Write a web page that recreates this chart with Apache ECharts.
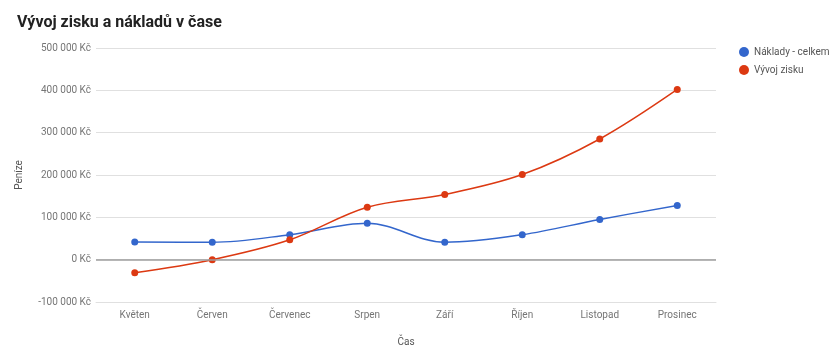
<!DOCTYPE html>
<html>
<head>
<meta charset="utf-8">
<script src="https://cdn.jsdelivr.net/npm/echarts@6/dist/echarts.min.js"></script>
<style>
  html, body { margin: 0; padding: 0; background: #fff; }
  #main { width: 838px; height: 354px; }
</style>
</head>
<body>
<div id="main"></div>
<script>
// mesíce (osa X)
const months = ["Květen", "Červen", "Červenec", "Srpen", "Září", "Říjen", "Listopad", "Prosinec"];
// hodnoty
const costs = [42000, 41000, 59000, 86000, 41000, 59000, 95000, 128000];
const profit = [-31000, 0, 47000, 124000, 154000, 201000, 285000, 402000];
const seriesNames = ["Náklady - celkem", "Vývoj zisku"];

const chart = echarts.init(document.getElementById("main"));

// formát "100 000 Kč"
function money(v) {
  const s = String(Math.abs(v)).replace(/\B(?=(\d{3})+(?!\d))/g, " ");
  return (v < 0 ? "-" : "") + s + " Kč";
}

const option = {
  textStyle: { fontFamily: "Roboto" },
  title: {
    text: "Vývoj zisku a nákladů v čase",
    left: 12,
    top: 10,
    textStyle: { fontSize: 16, fontWeight: "bold", color: "#222", fontFamily: "Roboto" },
  },
  legend: {
    orient: "vertical",
    left: 734,
    top: 42,
    itemWidth: 10,
    itemHeight: 10,
    itemGap: 8,
    icon: "circle",
    data: seriesNames,
    textStyle: { fontSize: 10, color: "#555" },
  },
  grid: { left: 96, right: 122, top: 48, bottom: 52, containLabel: false },
  xAxis: {
    type: "category",
    data: months,
    name: "Čas",
    nameLocation: "middle",
    nameGap: 35,
    nameTextStyle: { fontSize: 10, color: "#555" },
    axisLine: { onZero: false, lineStyle: { color: "#e0e0e0" } },
    axisTick: { show: false },
    axisLabel: { fontSize: 10, color: "#757575", margin: 8 },
  },
  yAxis: {
    type: "value",
    min: -100000,
    max: 500000,
    interval: 100000,
    name: "Peníze",
    nameLocation: "middle",
    nameGap: 72,
    nameTextStyle: { fontSize: 10, color: "#555" },
    axisLine: { show: false },
    axisTick: { show: false },
    axisLabel: { fontSize: 10, color: "#757575", margin: 5, formatter: money },
    splitLine: { lineStyle: { color: "#e0e0e0" } },
  },
  color: ["#3366cc", "#dc3912"],
  series: [
    {
      name: seriesNames[0],
      type: "line",
      smooth: 0.35,
      symbol: "circle",
      symbolSize: 7,
      lineStyle: { width: 1.5 },
      data: costs,
      markLine: {
        silent: true,
        symbol: "none",
        label: { show: false },
        lineStyle: { color: "#9e9e9e", type: "solid", width: 1.5 },
        data: [{ yAxis: 0 }],
      },
    },
    {
      name: seriesNames[1],
      type: "line",
      smooth: 0.35,
      symbol: "circle",
      symbolSize: 7,
      lineStyle: { width: 1.5 },
      data: profit,
    },
  ],
};

chart.setOption(option);
</script>
</body>
</html>
